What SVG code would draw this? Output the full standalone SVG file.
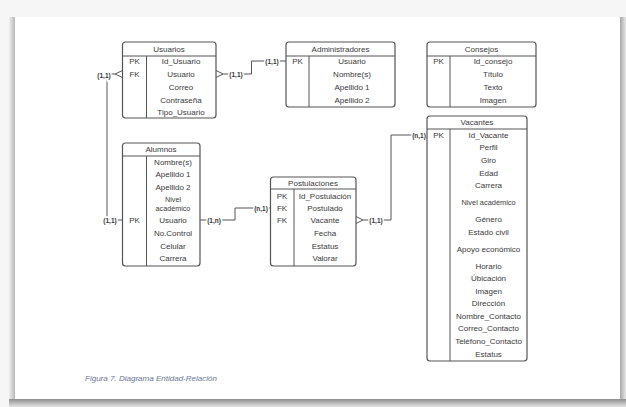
<svg xmlns="http://www.w3.org/2000/svg" width="626" height="407" viewBox="0 0 626 407">
<defs>
<linearGradient id="gb" x1="0" y1="0" x2="0" y2="1"><stop offset="0" stop-color="#8e8e8e"/><stop offset="1" stop-color="#e4e4e4"/></linearGradient>
<linearGradient id="gl" x1="0" y1="0" x2="1" y2="0"><stop offset="0" stop-color="#eeeeee"/><stop offset="1" stop-color="#b8b8b8"/></linearGradient>
<linearGradient id="gr" x1="0" y1="0" x2="1" y2="0"><stop offset="0" stop-color="#a8a8a8"/><stop offset="1" stop-color="#e8e8e8"/></linearGradient>
<style>
.box{fill:#fff;stroke:#555;stroke-width:1.2}
.ln{fill:none;stroke:#555;stroke-width:1}
.t{font-family:"Liberation Sans",Arial,sans-serif;font-size:8px;fill:#3a3a3a;text-anchor:middle}
.k{font-family:"Liberation Sans",Arial,sans-serif;font-size:8px;fill:#3a3a3a;text-anchor:middle}
.c{fill:none;stroke:#555;stroke-width:1}
.lb{font-family:"Liberation Sans",Arial,sans-serif;font-size:6.5px;font-weight:bold;fill:#333;text-anchor:middle;stroke:#fff;stroke-width:3;paint-order:stroke}
.cap{font-family:"Liberation Sans",Arial,sans-serif;font-size:7px;font-style:italic;fill:#6a7895}
</style>
</defs>
<rect x="0" y="0" width="626" height="407" fill="#f6f6f6"/>
<rect x="9" y="17" width="6" height="382" fill="url(#gl)"/>
<rect x="620" y="17" width="6" height="382" fill="url(#gr)"/>
<rect x="9" y="399" width="617" height="8" fill="url(#gb)"/>
<rect x="15" y="17" width="605" height="382" fill="#fff"/>

<g id="connectors">
<path class="c" d="M216,70.5 L223,74 L216,77.5 M223,74 H251.5 V61 H286"/>
<path class="c" d="M122.5,70.5 L115,74 L122.5,77.5 M115,74 H107 V220 H122.5"/>
<path class="c" d="M200,220 H235 V208 H270.5"/>
<path class="c" d="M356,216.5 L363,220 L356,223.5 M363,220 H391 V135 H427"/>
<text class="lb" x="236" y="76.5">(1,1)</text>
<text class="lb" x="272" y="63.5">(1,1)</text>
<text class="lb" x="104" y="78">(1,1)</text>
<text class="lb" x="110" y="222.5">(1,1)</text>
<text class="lb" x="214" y="222.5">(1,n)</text>
<text class="lb" x="261" y="210.5">(n,1)</text>
<text class="lb" x="376" y="222.5">(1,1)</text>
<text class="lb" x="419" y="137.5">(n,1)</text>
</g>

<g id="usuarios">
<rect class="box" x="122.5" y="42" width="93.5" height="76" rx="3"/>
<path class="ln" d="M122.5,56 H216 M146.5,56 V118"/>
<text class="t" x="169" y="51.5">Usuarios</text>
<text class="k" x="134.5" y="64">PK</text>
<text class="k" x="134.5" y="77">FK</text>
<text class="t" x="181" y="64">Id_Usuario</text>
<text class="t" x="181" y="77">Usuario</text>
<text class="t" x="181" y="90">Correo</text>
<text class="t" x="181" y="102.5">Contraseña</text>
<text class="t" x="181" y="115">Tipo_Usuario</text>
</g>

<g id="administradores">
<rect class="box" x="286" y="42" width="109" height="65" rx="3"/>
<path class="ln" d="M286,56 H395 M309,56 V107"/>
<text class="t" x="340.5" y="51.5">Administradores</text>
<text class="k" x="297.5" y="64">PK</text>
<text class="t" x="352" y="64">Usuario</text>
<text class="t" x="352" y="77">Nombre(s)</text>
<text class="t" x="352" y="90">Apellido 1</text>
<text class="t" x="352" y="102.5">Apellido 2</text>
</g>

<g id="consejos">
<rect class="box" x="427" y="42" width="109" height="65" rx="3"/>
<path class="ln" d="M427,56 H536 M450,56 V107"/>
<text class="t" x="481.5" y="51.5">Consejos</text>
<text class="k" x="438.5" y="64">PK</text>
<text class="t" x="493" y="64">Id_consejo</text>
<text class="t" x="493" y="77">Título</text>
<text class="t" x="493" y="90">Texto</text>
<text class="t" x="493" y="102.5">Imagen</text>
</g>

<g id="alumnos">
<rect class="box" x="122.5" y="143" width="77.5" height="123" rx="3"/>
<path class="ln" d="M122.5,156 H200 M146.5,156 V266"/>
<text class="t" x="161" y="151.5">Alumnos</text>
<text class="t" x="173" y="165">Nombre(s)</text>
<text class="t" x="173" y="177">Apellido 1</text>
<text class="t" x="173" y="190">Apellido 2</text>
<text class="t" x="173" y="201.5" style="font-size:7.2px">Nivel</text>
<text class="t" x="173" y="210.5" style="font-size:7.2px">académico</text>
<text class="k" x="134.5" y="223">PK</text>
<text class="t" x="173" y="223">Usuario</text>
<text class="t" x="173" y="236">No.Control</text>
<text class="t" x="173" y="249">Celular</text>
<text class="t" x="173" y="261">Carrera</text>
</g>

<g id="postulaciones">
<rect class="box" x="270.5" y="177" width="85.5" height="89" rx="3"/>
<path class="ln" d="M270.5,189 H356 M294,189 V266"/>
<text class="t" x="313" y="185.5">Postulaciones</text>
<text class="k" x="282" y="199">PK</text>
<text class="k" x="282" y="211">FK</text>
<text class="k" x="282" y="223">FK</text>
<text class="t" x="325" y="199">Id_Postulación</text>
<text class="t" x="325" y="211">Postulado</text>
<text class="t" x="325" y="223">Vacante</text>
<text class="t" x="325" y="236">Fecha</text>
<text class="t" x="325" y="249">Estatus</text>
<text class="t" x="325" y="261">Valorar</text>
</g>

<g id="vacantes">
<rect class="box" x="427" y="116" width="100" height="245" rx="3"/>
<path class="ln" d="M427,129 H527 M450,129 V361"/>
<text class="t" x="477" y="124.5">Vacantes</text>
<text class="k" x="438.5" y="138">PK</text>
<text class="t" x="488.5" y="138">Id_Vacante</text>
<text class="t" x="488.5" y="150">Perfil</text>
<text class="t" x="488.5" y="163">Giro</text>
<text class="t" x="488.5" y="176">Edad</text>
<text class="t" x="488.5" y="188">Carrera</text>
<text class="t" x="488.5" y="205" style="font-size:7.4px">Nivel académico</text>
<text class="t" x="488.5" y="222">Género</text>
<text class="t" x="488.5" y="235">Estado civil</text>
<text class="t" x="488.5" y="252">Apoyo económico</text>
<text class="t" x="488.5" y="269">Horario</text>
<text class="t" x="488.5" y="281">Úbicación</text>
<text class="t" x="488.5" y="294">Imagen</text>
<text class="t" x="488.5" y="306">Dirección</text>
<text class="t" x="488.5" y="319">Nombre_Contacto</text>
<text class="t" x="488.5" y="331">Correo_Contacto</text>
<text class="t" x="488.5" y="344">Teléfono_Contacto</text>
<text class="t" x="488.5" y="357">Estatus</text>
</g>

<text class="cap" x="85" y="381" textLength="132" lengthAdjust="spacingAndGlyphs">Figura 7. Diagrama Entidad-Relación</text>
</svg>
